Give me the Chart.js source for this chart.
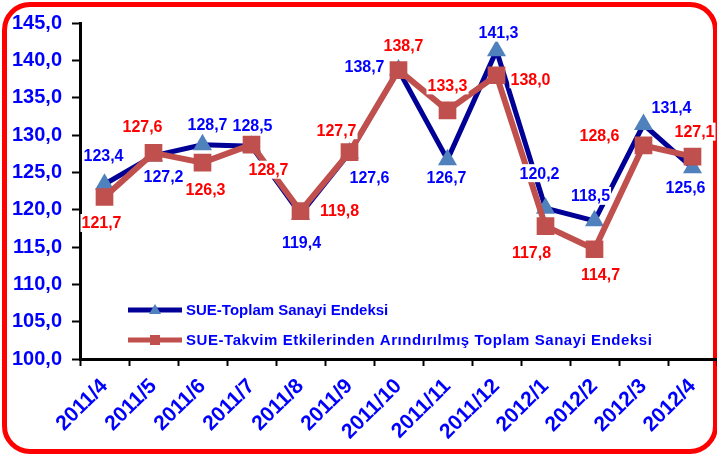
<!DOCTYPE html>
<html>
<head>
<meta charset="utf-8">
<script src="https://cdn.jsdelivr.net/npm/chart.js@4.4.1/dist/chart.umd.min.js"></script>
<style>
  html, body { margin: 0; padding: 0; background: #fff; overflow: hidden; }
  #frame {
    position: absolute; left: 2px; top: 2px; width: 716px; height: 452px;
    box-sizing: border-box; border: 5px solid #ff0000; border-radius: 28px;
  }
  #chart { position: absolute; left: 0; top: 0; }
</style>
</head>
<body>
<div id="frame"></div>
<canvas id="chart" width="717" height="455"></canvas>
<script>
const months = ['2011/4', '2011/5', '2011/6', '2011/7', '2011/8', '2011/9', '2011/10',
  '2011/11', '2011/12', '2012/1', '2012/2', '2012/3', '2012/4'];
const toplam = [123.4, 127.2, 128.7, 128.5, 119.4, 127.6, 138.7, 126.7, 141.3, 120.2, 118.5, 131.4, 125.6];
const takvim = [121.7, 127.6, 126.3, 128.7, 119.8, 127.7, 138.7, 133.3, 138.0, 117.8, 114.7, 128.6, 127.1];
const seriesNames = ['SUE-Toplam Sanayi Endeksi', 'SUE-Takvim Etkilerinden Arındırılmış Toplam Sanayi Endeksi'];

// where each value label sits relative to its point (dx, dy)
const toplamLabelShift = [[-1, -29], [10, 21], [5, -20], [1, -21], [1, 28], [20, 25], [-34, -3],
  [-1, 18], [2, -18], [-6, -35], [-4, -25], [28, -17], [-7, 20]];
const takvimLabelShift = [[-3, 26], [-11, -26], [3, 27], [17, 25], [39, -1], [-13, -22], [5, -24],
  [0, -25], [34, 4], [-14, 27], [6, 25], [-44, -10], [2, -25]];

const FONT = 'Liberation Sans, Arial, sans-serif';
const BLUE = '#0000ff';
const NAVY = '#000096';
const TRI = '#4f81bd';
const BRICK = '#c0504d';

const fmt = v => v.toFixed(1).replace('.', ',');

const valueLabels = {
  id: 'valueLabels',
  afterDatasetsDraw(chart) {
    const ctx = chart.ctx;
    ctx.save();
    ctx.font = 'bold 16px ' + FONT;
    ctx.textAlign = 'center';
    ctx.textBaseline = 'middle';
    chart.data.datasets.forEach((ds, i) => {
      const meta = chart.getDatasetMeta(i);
      meta.data.forEach((pt, j) => {
        const s = ds.labelShift[j];
        const x = pt.x + s[0], y = pt.y + s[1];
        const txt = fmt(ds.data[j]);
        const w = ctx.measureText(txt).width;
        ctx.fillStyle = '#fff';
        ctx.fillRect(x - w / 2 - 1, y - 9, w + 2, 18);
        ctx.fillStyle = ds.labelColor;
        ctx.fillText(txt, x, y + 1);
      });
    });
    ctx.restore();
  }
};

const innerLegend = {
  id: 'innerLegend',
  afterDatasetsDraw(chart) {
    const ctx = chart.ctx;
    const rows = [
      { y: 310, line: NAVY, mark: 'tri', color: TRI, spacing: '0px' },
      { y: 340, line: BRICK, mark: 'sq', color: BRICK, spacing: '0.55px' }
    ];
    ctx.save();
    rows.forEach((r, i) => {
      ctx.strokeStyle = r.line;
      ctx.lineWidth = 5;
      ctx.beginPath();
      ctx.moveTo(128, r.y);
      ctx.lineTo(182, r.y);
      ctx.stroke();
      ctx.fillStyle = r.color;
      ctx.beginPath();
      if (r.mark === 'tri') {
        ctx.moveTo(155, r.y - 6);
        ctx.lineTo(161, r.y + 4);
        ctx.lineTo(149, r.y + 4);
        ctx.closePath();
        ctx.fill();
      } else {
        ctx.fillRect(150, r.y - 5, 10, 10);
      }
      ctx.fillStyle = BLUE;
      ctx.font = 'bold 15px ' + FONT;
      ctx.textBaseline = 'middle';
      ctx.letterSpacing = r.spacing;
      ctx.fillText(seriesNames[i], 186, r.y + 1);
    });
    ctx.restore();
  }
};

new Chart(document.getElementById('chart'), {
  type: 'line',
  data: {
    labels: months,
    datasets: [
      {
        label: seriesNames[0],
        data: toplam,
        borderColor: NAVY,
        borderWidth: 5,
        pointStyle: 'triangle',
        pointRadius: 11,
        pointBackgroundColor: TRI,
        pointBorderColor: TRI,
        pointBorderWidth: 0,
        labelShift: toplamLabelShift,
        labelColor: BLUE,
        order: 1
      },
      {
        label: seriesNames[1],
        data: takvim,
        borderColor: BRICK,
        borderWidth: 6,
        pointStyle: 'rect',
        pointRadius: 12.5,
        pointBackgroundColor: BRICK,
        pointBorderColor: BRICK,
        pointBorderWidth: 0,
        labelShift: takvimLabelShift,
        labelColor: '#ff0000',
        order: 0
      }
    ]
  },
  options: {
    responsive: false,
    animation: false,
    layout: { autoPadding: false, padding: { top: 23, left: 0, right: 0, bottom: 0 } },
    plugins: { legend: { display: false }, tooltip: { enabled: false } },
    scales: {
      x: {
        offset: true,
        afterFit: s => { s.height = 96; s.paddingRight = 0; s.paddingLeft = 0; },
        grid: { drawOnChartArea: false, offset: true, tickLength: 7, tickWidth: 2, tickColor: '#000' },
        border: { color: '#000', width: 3 },
        ticks: {
          color: BLUE, font: { family: FONT, size: 21, weight: 'bold' },
          minRotation: 45, maxRotation: 45, autoSkip: false, padding: 8
        }
      },
      y: {
        min: 100, max: 145,
        afterFit: s => { s.width = 80; },
        grid: { drawOnChartArea: false, tickLength: 8, tickWidth: 2, tickColor: '#000' },
        border: { color: '#000', width: 3 },
        ticks: {
          stepSize: 5, color: BLUE, padding: 10,
          font: { family: FONT, size: 20, weight: 'bold' },
          callback: v => fmt(v)
        }
      }
    }
  },
  plugins: [valueLabels, innerLegend]
});
</script>
</body>
</html>
